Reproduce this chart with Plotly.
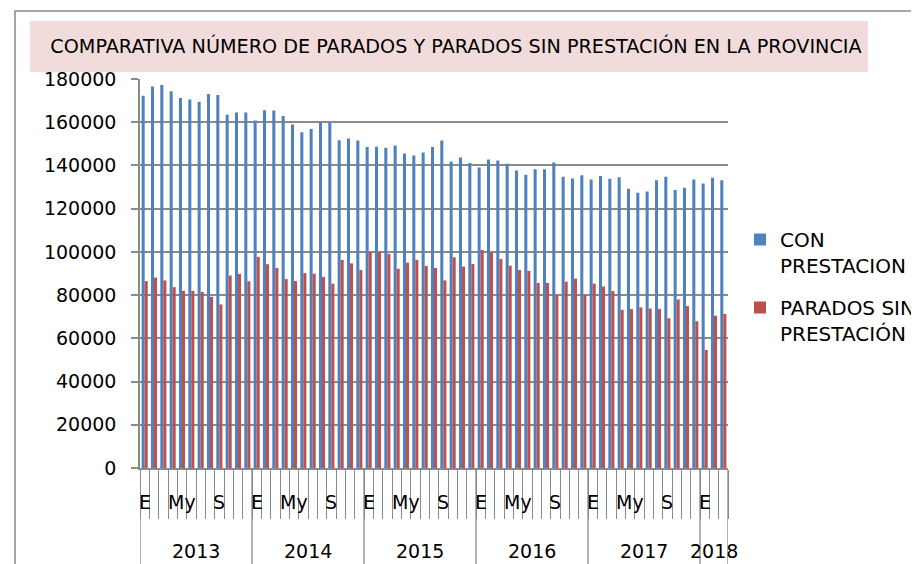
import plotly.graph_objects as go

# ---- data ----
year_labels = ["2013", "2014", "2015", "2016", "2017", "2018"]
months_per_year = [12, 12, 12, 12, 12, 3]
month_names = ["E", "F", "M", "A", "My", "J", "Jl", "Ag", "S", "O", "N", "D"]

con_prestacion = [
    172300, 176500, 177200, 174300, 171200, 170500, 169500, 173100, 172600, 163500, 164500, 164500,
    160800, 165500, 165400, 162900, 158900, 155400, 156900, 160100, 159800, 151700, 152500, 151500,
    148500, 148600, 148200, 149200, 145500, 144600, 146000, 148500, 151500, 141800, 143700, 141100,
    139100, 142800, 142300, 140800, 137700, 135700, 138200, 138200, 141400, 134800, 134000, 135500,
    133500, 135100, 133800, 134500, 129200, 127400, 128000, 133200, 134800, 128600, 129700, 133500,
    131700, 134300, 133100,
]
sin_prestacion = [
    86500, 88100, 86800, 83700, 82000, 82000, 81500, 79200, 75700, 89100, 89800, 86400,
    97700, 94300, 92600, 87400, 86500, 90200, 89900, 88400, 85300, 96300, 94700, 91600,
    100000, 100100, 99100, 92200, 95000, 96300, 93500, 92600, 86800, 97500, 93200, 94400,
    100900, 99700, 96700, 93600, 91600, 91200, 85600, 85600, 80000, 86200, 87600, 80100,
    85300, 84000, 81900, 73200, 73500, 74300, 73800, 73600, 69300, 78000, 74900, 67900,
    54600, 70500, 71300,
]
y_ticks = [0, 20000, 40000, 60000, 80000, 100000, 120000, 140000, 160000, 180000]

title_text = "COMPARATIVA NÚMERO DE PARADOS Y PARADOS SIN PRESTACIÓN EN LA PROVINCIA"
name_con = "CON<br>PRESTACION"
name_sin = "PARADOS SIN<br>PRESTACIÓN"

# ---- build categories ----
categories, month_text = [], []
for y, n in zip(year_labels, months_per_year):
    for i in range(n):
        categories.append(f"{month_names[i]} {y}")
        month_text.append(month_names[i] if i % 4 == 0 else "")

FONT = "DejaVu Sans"
GRAY = "#8a8a8a"
OFF = 8  # page body margin
SW, SH = 919, 564
W, H = SW - OFF, SH - OFF
# plot area in screen pixels
PX0, PX1, PY0, PY1 = 140, 728, 79, 468
L, R, T, B = PX0 - OFF, SW - PX1, PY0 - OFF, SH - PY1
PW, PH = PX1 - PX0, PY1 - PY0


def px_x(sx):
    return (sx - PX0) / PW


def px_y(sy):
    return (PY1 - sy) / PH


fig = go.Figure()
fig.add_trace(go.Bar(x=categories, y=con_prestacion, name=name_con, legendgroup="a",
                     marker=dict(color="#4f81bd", line=dict(width=0))))
fig.add_trace(go.Bar(x=categories, y=sin_prestacion, name=name_sin, legendgroup="b",
                     marker=dict(color="#c0504d", line=dict(width=0))))

shapes = []
# outer chart border
shapes.append(dict(type="rect", xref="paper", yref="paper",
                   x0=px_x(15), x1=px_x(SW + 20), y0=px_y(SH + 20), y1=px_y(11),
                   line=dict(color=GRAY, width=1.5), fillcolor="rgba(0,0,0,0)", layer="below"))
# title box
shapes.append(dict(type="rect", xref="paper", yref="paper",
                   x0=px_x(30), x1=px_x(868), y0=px_y(72), y1=px_y(21),
                   line=dict(width=0), fillcolor="#f2dcdb", layer="below"))

annotations = []
# month labels (every 4th month shown)
for idx, txt in enumerate(month_text):
    if txt:
        annotations.append(dict(x=idx, y=px_y(502), xref="x", yref="paper",
                                text=txt, showarrow=False, yanchor="middle",
                                font=dict(family=FONT, size=19, color="black")))
# year groups
start = 0
for y, n in zip(year_labels, months_per_year):
    b = start - 0.5
    shapes.append(dict(type="line", xref="x", yref="paper", x0=b, x1=b,
                       y0=0, y1=px_y(SH + 10), line=dict(color=GRAY, width=1.3)))
    annotations.append(dict(x=start + (n - 1) / 2, y=px_y(551), xref="x", yref="paper",
                            text=y, showarrow=False, yanchor="middle",
                            font=dict(family=FONT, size=19, color="black")))
    start += n
shapes.append(dict(type="line", xref="x", yref="paper", x0=start - 0.5, x1=start - 0.5,
                   y0=0, y1=px_y(SH + 10), line=dict(color=GRAY, width=1.3)))

fig.update_layout(
    width=W, height=H,
    margin=dict(l=L, r=R, t=T, b=B, autoexpand=False),
    paper_bgcolor="white", plot_bgcolor="white",
    barmode="group", bargap=0.35, bargroupgap=0,
    title=dict(text=title_text, font=dict(family=FONT, size=19.2, color="black"),
               xref="container", x=(456 - OFF) / W, xanchor="center",
               yref="container", y=1 - (46.5 - OFF) / H, yanchor="middle"),
    showlegend=True,
    legend=dict(x=px_x(740), y=px_y(220), xanchor="left", yanchor="top",
                font=dict(family=FONT, size=20, color="black"),
                valign="top", traceorder="grouped", tracegroupgap=13,
                bgcolor="rgba(0,0,0,0)"),
    shapes=shapes,
    annotations=annotations,
    font=dict(family=FONT, color="black"),
)

fig.update_xaxes(type="category", categoryorder="array", categoryarray=categories,
                 range=[-0.5, len(categories) - 0.5],
                 tickmode="array", tickvals=categories, showticklabels=False,
                 tickson="boundaries", ticks="outside", ticklen=49, tickwidth=1.3, tickcolor=GRAY,
                 showline=True, linecolor=GRAY, linewidth=1.5, showgrid=False, automargin=False)
fig.update_yaxes(range=[0, 180000], tickmode="array", tickvals=y_ticks,
                 ticktext=[str(v) for v in y_ticks],
                 ticks="outside", ticklen=7, tickwidth=1.5, tickcolor=GRAY,
                 showline=True, linecolor=GRAY, linewidth=1.5,
                 showgrid=True, gridcolor=GRAY, gridwidth=1.5, zeroline=False,
                 tickfont=dict(family=FONT, size=19, color="black"),
                 ticklabelstandoff=11, automargin=False)

fig.write_html("out.html")
